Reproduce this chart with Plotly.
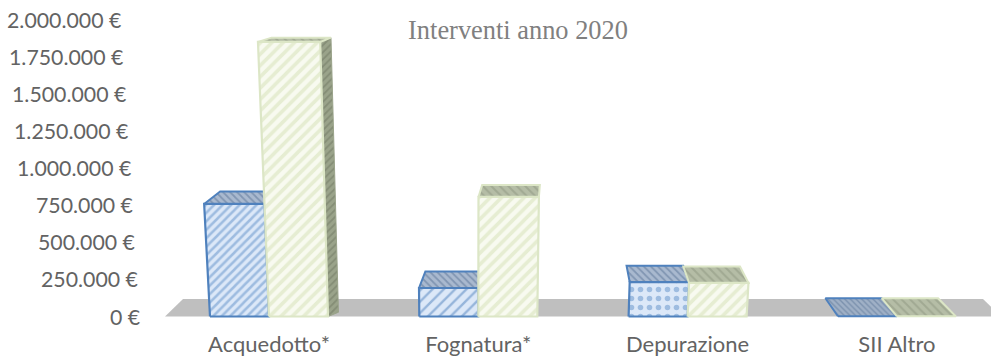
import plotly.graph_objects as go

categories = ["Acquedotto*", "Fognatura*", "Depurazione", "SII Altro"]
blue_values = [758000, 192000, 232000, 2000]
green_values = [1849000, 805000, 226000, 1000]
tick_values = [0, 250000, 500000, 750000, 1000000, 1250000, 1500000, 1750000, 2000000]
tick_labels = ["0 €", "250.000 €", "500.000 €", "750.000 €", "1.000.000 €",
               "1.250.000 €", "1.500.000 €", "1.750.000 €", "2.000.000 €"]
title_text = "Interventi anno 2020"

W, H = 991, 358
PL, PR, PT, PB = 150, 991, 6, 329      # plot box in page pixels
X0, DX = 269.0, 209.3                  # page x of category 0, pixels per category
Y0, PY = 316.5, 297 / 2000000          # page y of value 0, pixels per euro
BAR = 59.0

def xd(px):
    return (px - X0) / DX

def top_x(xb, h):
    return xb + (xb - 470) * 0.0002 * h

def back_dx(x):
    return (560 - x) * 0.045

def depth(h):
    return max(18 - 0.05 * h, 4)

fig = go.Figure()

def poly(xs_px, ys_val, bg, fg, shape, line, lw=2, size=7, sol=0.4, name=""):
    fig.add_trace(go.Scatter(
        x=[xd(x) for x in xs_px] + [xd(xs_px[0])],
        y=list(ys_val) + [ys_val[0]],
        mode="lines", fill="toself", fillcolor=bg,
        fillpattern=dict(shape=shape, bgcolor=bg, fgcolor=fg, size=size, solidity=sol),
        line=dict(color=line, width=lw), name=name, showlegend=False, hoverinfo="name",
    ))

# grey floor strip
g_d = 17.5 / PY
fig.add_trace(go.Scatter(
    x=[xd(165), xd(183), xd(983), xd(1001), xd(165)],
    y=[0, g_d, g_d, 0, 0], mode="lines", fill="toself", fillcolor="#bfbfbf",
    line=dict(width=0), showlegend=False, hoverinfo="skip",
))

def bar3d(i, left_off, value, st, name):
    xl = X0 + DX * i + left_off
    xr = xl + BAR
    h = value * PY
    d = depth(h)
    tl, tr = top_x(xl, h), top_x(xr, h)
    bl, br = tl + back_dx(tl), tr + back_dx(tr)
    yt, yb = value, value + d / PY
    if back_dx(xr) > 3 and h > 20 and st["side"]:
        poly([xr, tr, br, xr + back_dx(xr)], [0, yt, yb, d / PY],
             st["side_bg"], st["side_fg"], "/", st["side_bg"], 1, 5, 0.35, name)
    poly([tl, tr, br, bl], [yt, yt, yb, yb], st["top_bg"], st["top_fg"], st["top_shape"],
         st["line"], 2, st.get("top_size", 6), 0.35, name)
    if h > 1:
        poly([xl, xr, tr, tl], [0, 0, yt, yt], st["bg"], st["fg"], st["shape"],
             st["line"], 2.2, st["size"], st["sol"], name)

blue_base = dict(bg="#dce8f8", fg="#5f8fc8", shape="/", size=6, sol=0.42, line="#4f81bd", side=False,
                 side_bg="#7f93ad", side_fg="#5f7390", top_bg="#a9b9cf", top_fg="#5a7396", top_shape="\\", top_size=5)
green_base = dict(bg="#f8faf0", fg="#d3e0b4", shape="/", size=8, sol=0.45, line="#dce6c6", side=True,
                  side_bg="#9aa38a", side_fg="#6f7862", top_bg="#b5bda6", top_fg="#8d9680", top_shape="\\", top_size=6)
blue_styles = [dict(blue_base),
               dict(blue_base, shape="/", size=8, sol=0.3, fg="#4f81bd"),
               dict(blue_base, shape=".", size=9, sol=0.3, fg="#5f8fc8"),
               dict(blue_base, top_bg="#9fb0c6", top_size=4)]

for i in range(len(categories)):
    bar3d(i, -BAR, blue_values[i], blue_styles[i], categories[i] + " (1)")
for i in range(len(categories)):
    bar3d(i, 0, green_values[i], green_base, categories[i] + " (2)")

# value labels lean with the perspective of the wall, so each sits at its own right edge
annotations = [
    dict(text=t, x=(142 - 19 * v / 2000000 - PL) / (PR - PL), y=v, xref="paper", yref="y",
         xanchor="right", yanchor="middle", showarrow=False, xshift=0,
         font=dict(family="Lato", size=21.3, color="#636363"))
    for v, t in zip(tick_values, tick_labels)
]

fig.update_layout(
    width=W, height=H, autosize=False,
    margin=dict(l=PL, r=W - PR, t=PT, b=H - PB, pad=0, autoexpand=False),
    paper_bgcolor="white", plot_bgcolor="white", showlegend=False,
    font=dict(family="Lato", size=22, color="#636363"),
    annotations=annotations,
    title=dict(text=title_text, x=518 / W, y=1 - 30 / H, xanchor="center", yanchor="middle",
               xref="container", yref="container",
               font=dict(family="Liberation Serif", size=26.4, color="#808080")),
    xaxis=dict(range=[xd(PL), xd(PR)], tickmode="array", tickvals=list(range(len(categories))),
               ticktext=categories, showgrid=False, zeroline=False, showline=False,
               ticks="", fixedrange=True, ticklabelstandoff=0, automargin=False),
    yaxis=dict(range=[(Y0 - PB) / PY, (Y0 - PT) / PY], tickmode="array", tickvals=tick_values,
               showticklabels=False, showgrid=False, zeroline=False, showline=False, ticks="",
               fixedrange=True, automargin=False),
)
fig.write_html("out.html", config=dict(displayModeBar=False),
               post_script="document.body.style.margin='0';document.body.style.overflow='hidden';")
